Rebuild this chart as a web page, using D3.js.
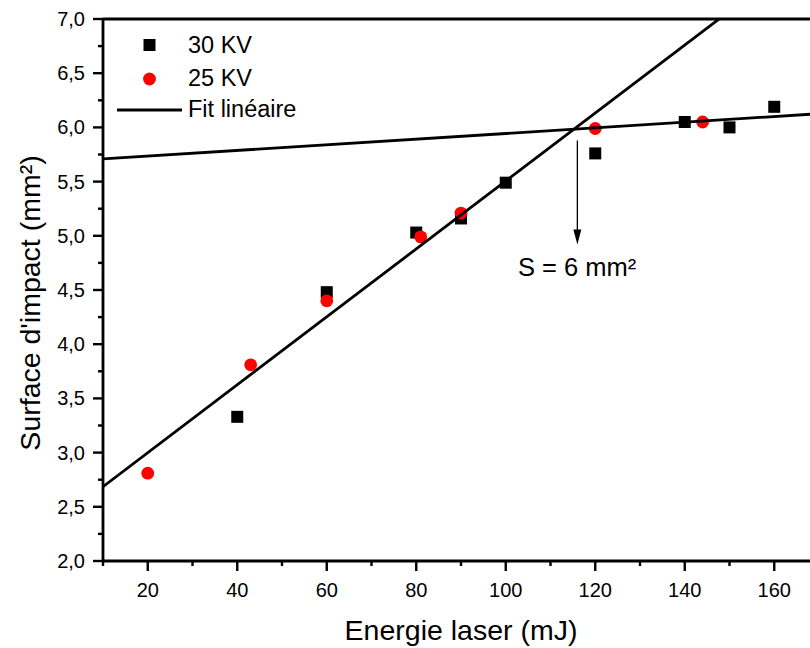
<!DOCTYPE html>
<html>
<head>
<meta charset="utf-8">
<script src="https://cdn.jsdelivr.net/npm/d3@7"></script>
<style>
  html, body { margin: 0; padding: 0; background: #fff; }
  svg { display: block; font-family: "Liberation Sans", Arial, sans-serif; }
</style>
</head>
<body>
<svg id="chart" width="810" height="648"></svg>
<script>
// ---- Data ----
const energy30 = [40, 60, 80, 90, 100, 120, 140, 150, 160];
const surface30 = [3.33, 4.48, 5.03, 5.16, 5.49, 5.76, 6.05, 6.00, 6.19];
const energy25 = [20, 43, 60, 81, 90, 120, 144];
const surface25 = [2.81, 3.81, 4.40, 4.99, 5.21, 5.99, 6.05];
// linear fits: [intercept, slope]
const fitSteep = [2.372, 0.03134];
const fitFlat = [5.683, 0.002608];
const fitRange = [10, 170];
const xMajorTicks = [20, 40, 60, 80, 100, 120, 140, 160];
const xMinorTicks = [10, 30, 50, 70, 90, 110, 130, 150, 170];
const yMajorTicks = [2.0, 2.5, 3.0, 3.5, 4.0, 4.5, 5.0, 5.5, 6.0, 6.5, 7.0];
const yMinorTicks = [2.25, 2.75, 3.25, 3.75, 4.25, 4.75, 5.25, 5.75, 6.25, 6.75];
const arrowX = [116];
const arrowY = [5.88, 4.92];
const annotation = ["S = 6 mm²"];
const legendLabels = ["30 KV", "25 KV", "Fit linéaire"];
const xTitle = "Energie laser (mJ)";
const yTitle = "Surface d'impact (mm²)";

// ---- Layout ----
const svg = d3.select("#chart");
const x = d3.scaleLinear().domain([10, 170]).range([103, 819]);
const y = d3.scaleLinear().domain([2, 7]).range([561, 19]);
const fmt = v => d3.format(".1f")(v).replace(".", ",");

svg.append("defs").append("clipPath").attr("id", "clip")
  .append("rect").attr("x", 103).attr("y", 19).attr("width", 716).attr("height", 542);

// markers
const g = svg.append("g").attr("clip-path", "url(#clip)");
g.selectAll("rect.s30").data(energy30.map((e, i) => [e, surface30[i]]))
  .enter().append("rect").attr("class", "s30")
  .attr("x", d => x(d[0]) - 6).attr("y", d => y(d[1]) - 6)
  .attr("width", 12).attr("height", 12).attr("fill", "#000");
g.selectAll("circle.s25").data(energy25.map((e, i) => [e, surface25[i]]))
  .enter().append("circle").attr("class", "s25")
  .attr("cx", d => x(d[0])).attr("cy", d => y(d[1])).attr("r", 6.4).attr("fill", "#ff0000");

// fit lines
[fitSteep, fitFlat].forEach(f => {
  g.append("line")
    .attr("x1", x(fitRange[0])).attr("y1", y(f[0] + f[1] * fitRange[0]))
    .attr("x2", x(fitRange[1])).attr("y2", y(f[0] + f[1] * fitRange[1]))
    .attr("stroke", "#000").attr("stroke-width", 2.8);
});

// arrow
svg.append("line")
  .attr("x1", x(arrowX[0])).attr("x2", x(arrowX[0]))
  .attr("y1", y(arrowY[0])).attr("y2", y(arrowY[1]) - 10)
  .attr("stroke", "#000").attr("stroke-width", 1.3);
const ax = x(arrowX[0]), ay = y(arrowY[1]);
svg.append("path")
  .attr("d", `M${ax - 4},${ay - 15} L${ax + 4},${ay - 15} L${ax},${ay} Z`)
  .attr("fill", "#000");
svg.append("text").attr("x", 518).attr("y", 276)
  .attr("font-size", 25.5).attr("fill", "#000").text(annotation[0]);

// axes
const axisG = svg.append("g");
axisG.append("line").attr("x1", 103).attr("x2", 819).attr("y1", 561).attr("y2", 561)
  .attr("stroke", "#000").attr("stroke-width", 2.8);
axisG.append("line").attr("x1", 103).attr("x2", 819).attr("y1", 19).attr("y2", 19)
  .attr("stroke", "#000").attr("stroke-width", 2.8);
axisG.append("line").attr("x1", 103).attr("x2", 103).attr("y1", 19).attr("y2", 561)
  .attr("stroke", "#000").attr("stroke-width", 2.8);

axisG.selectAll("line.xmaj").data(xMajorTicks).enter().append("line")
  .attr("x1", d => x(d)).attr("x2", d => x(d)).attr("y1", 561).attr("y2", 571)
  .attr("stroke", "#000").attr("stroke-width", 2.4);
axisG.selectAll("line.xmin").data(xMinorTicks).enter().append("line")
  .attr("x1", d => x(d)).attr("x2", d => x(d)).attr("y1", 561).attr("y2", 566)
  .attr("stroke", "#000").attr("stroke-width", 2.4);
axisG.selectAll("text.xl").data(xMajorTicks).enter().append("text")
  .attr("x", d => x(d)).attr("y", 597).attr("text-anchor", "middle")
  .attr("font-size", 20).text(d => d);

axisG.selectAll("line.ymaj").data(yMajorTicks).enter().append("line")
  .attr("x1", 93).attr("x2", 103).attr("y1", d => y(d)).attr("y2", d => y(d))
  .attr("stroke", "#000").attr("stroke-width", 2.4);
axisG.selectAll("line.ymin").data(yMinorTicks).enter().append("line")
  .attr("x1", 98).attr("x2", 103).attr("y1", d => y(d)).attr("y2", d => y(d))
  .attr("stroke", "#000").attr("stroke-width", 2.4);
axisG.selectAll("text.yl").data(yMajorTicks).enter().append("text")
  .attr("x", 85).attr("y", d => y(d) + 7).attr("text-anchor", "end")
  .attr("font-size", 20).text(d => fmt(d));

// axis titles
svg.append("text").attr("x", 461).attr("y", 640).attr("text-anchor", "middle")
  .attr("font-size", 28.5).text(xTitle);
svg.append("text").attr("transform", "translate(40,303) rotate(-90)")
  .attr("text-anchor", "middle").attr("font-size", 28.5).text(yTitle);

// legend
const lg = svg.append("g");
lg.append("rect").attr("x", 143.5).attr("y", 39).attr("width", 12).attr("height", 12).attr("fill", "#000");
lg.append("circle").attr("cx", 149.5).attr("cy", 79).attr("r", 6.4).attr("fill", "#ff0000");
lg.append("line").attr("x1", 117).attr("x2", 182).attr("y1", 110).attr("y2", 110)
  .attr("stroke", "#000").attr("stroke-width", 2.8);
lg.selectAll("text").data(legendLabels).enter().append("text")
  .attr("x", 188).attr("y", (d, i) => [53, 86, 117][i])
  .attr("font-size", 23.5).text(d => d);
</script>
</body>
</html>
